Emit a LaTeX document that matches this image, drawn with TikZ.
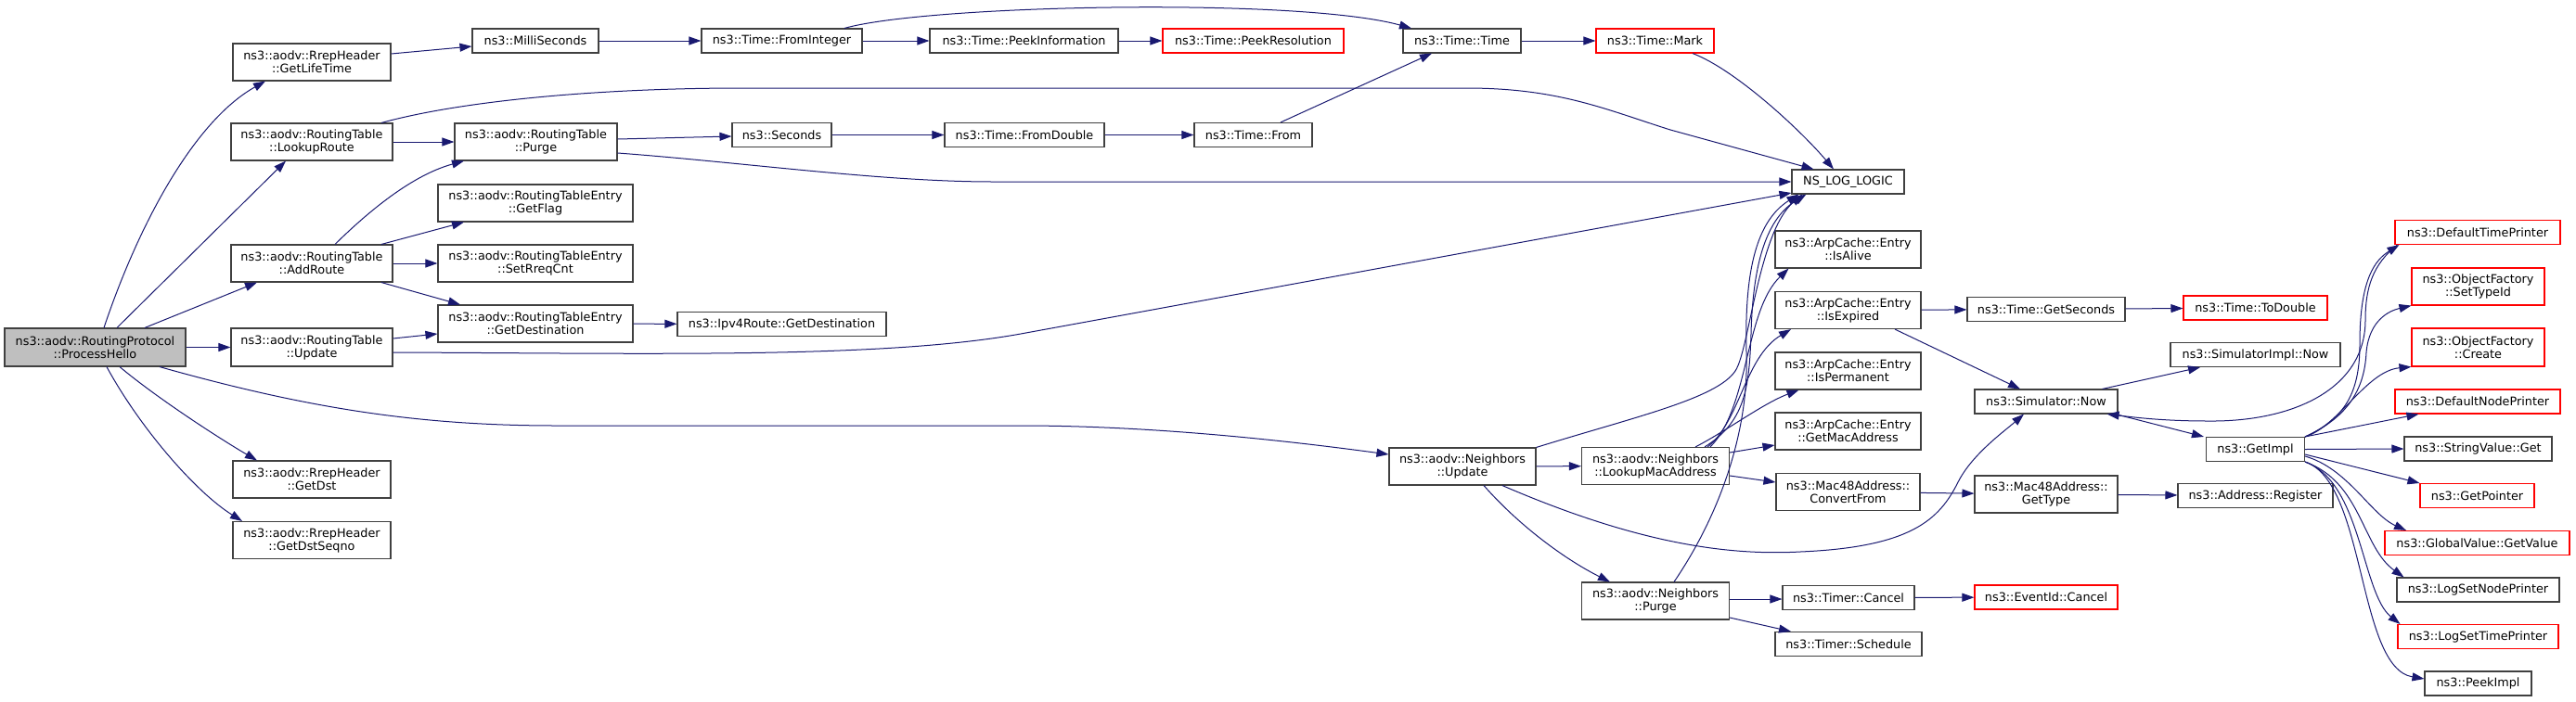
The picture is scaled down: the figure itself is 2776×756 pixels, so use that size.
\documentclass[tikz,border=0pt]{standalone}
\usepackage{fontspec}
\setmainfont{DejaVu Sans}
\usetikzlibrary{arrows.meta}
\definecolor{edgeblue}{HTML}{191970}
\definecolor{boxgray}{HTML}{404040}
\definecolor{rootgray}{HTML}{BFBFBF}
\definecolor{boxred}{HTML}{FF0000}
\tikzset{
  fn/.style={draw=boxgray, line width=1.1pt, fill=white, inner sep=0pt, align=center,
    font=\fontsize{12.8}{14}\selectfont},
  one/.style={minimum height=26pt},
  two/.style={minimum height=40pt},
  redfn/.style={fn, draw=boxred},
  e/.style={draw=edgeblue, line width=1pt, -{Triangle[length=13pt,width=9pt]}},
}
\begin{document}
\begin{tikzpicture}[x=1pt,y=-1pt]
\useasboundingbox (0,0) rectangle (2776,756);
% column 1
\node[fn, two, minimum width=195pt, minimum height=41pt, fill=rootgray] (PH) at (102.5,374.5) {ns3::aodv::RoutingProtocol\\::ProcessHello};
% column 2
\node[fn, two, minimum width=170pt] (GLT) at (336,67) {ns3::aodv::RrepHeader\\::GetLifeTime};
\node[fn, two, minimum width=174pt] (LR) at (336,153) {ns3::aodv::RoutingTable\\::LookupRoute};
\node[fn, two, minimum width=174pt] (AR) at (336,284) {ns3::aodv::RoutingTable\\::AddRoute};
\node[fn, two, minimum width=174pt, minimum height=41pt] (RU) at (336,374.5) {ns3::aodv::RoutingTable\\::Update};
\node[fn, two, minimum width=170pt] (GDst) at (336,517) {ns3::aodv::RrepHeader\\::GetDst};
\node[fn, two, minimum width=170pt] (GDS) at (336,582.5) {ns3::aodv::RrepHeader\\::GetDstSeqno};
% column 3
\node[fn, one, minimum width=136pt] (MS) at (577,44) {ns3::MilliSeconds};
\node[fn, two, minimum width=175pt] (RTP) at (577.5,153) {ns3::aodv::RoutingTable\\::Purge};
\node[fn, two, minimum width=210pt] (GF) at (577,219) {ns3::aodv::RoutingTableEntry\\::GetFlag};
\node[fn, two, minimum width=210pt] (SRC) at (577,284) {ns3::aodv::RoutingTableEntry\\::SetRreqCnt};
\node[fn, two, minimum width=210pt] (GD) at (577,349) {ns3::aodv::RoutingTableEntry\\::GetDestination};
% column 4
\node[fn, one, minimum width=173pt] (FI) at (842.5,44) {ns3::Time::FromInteger};
\node[fn, one, minimum width=107pt] (SEC) at (842.5,145.5) {ns3::Seconds};
\node[fn, one, minimum width=225pt] (IGD) at (842.5,349.5) {ns3::Ipv4Route::GetDestination};
% column 5
\node[fn, one, minimum width=203pt] (PI) at (1103.5,44) {ns3::Time::PeekInformation};
\node[fn, one, minimum width=172pt] (FD) at (1104,145.5) {ns3::Time::FromDouble};
% column 6
\node[redfn, one, minimum width=195pt] (PR) at (1350.5,44) {ns3::Time::PeekResolution};
\node[fn, one, minimum width=127pt] (FR) at (1350.5,145.5) {ns3::Time::From};
% column 7
\node[fn, one, minimum width=127pt] (TT) at (1575.5,44) {ns3::Time::Time};
\node[fn, two, minimum width=158pt] (NU) at (1576,503) {ns3::aodv::Neighbors\\::Update};
% column 8
\node[redfn, one, minimum width=127pt] (TM) at (1783.5,44) {ns3::Time::Mark};
\node[fn, two, minimum width=159pt] (LMA) at (1784,502.5) {ns3::aodv::Neighbors\\::LookupMacAddress};
\node[fn, two, minimum width=159pt] (NP) at (1784,648) {ns3::aodv::Neighbors\\::Purge};
% column 9
\node[fn, one, minimum width=121pt] (NLL) at (1991.5,196) {NS\_LOG\_LOGIC};
\node[fn, two, minimum width=157pt] (IA) at (1991.5,269) {ns3::ArpCache::Entry\\::IsAlive};
\node[fn, two, minimum width=157pt] (IE) at (1991.5,334.5) {ns3::ArpCache::Entry\\::IsExpired};
\node[fn, two, minimum width=157pt] (IP) at (1991.5,400) {ns3::ArpCache::Entry\\::IsPermanent};
\node[fn, two, minimum width=157pt] (GMA) at (1991.5,465) {ns3::ArpCache::Entry\\::GetMacAddress};
\node[fn, two, minimum width=155pt] (CF) at (1991.5,530.5) {ns3::Mac48Address::\\ConvertFrom};
\node[fn, one, minimum width=142pt] (TC) at (1992,644.5) {ns3::Timer::Cancel};
\node[fn, one, minimum width=158pt] (TS) at (1992,694.5) {ns3::Timer::Schedule};
% column 10
\node[fn, one, minimum width=170pt] (GS) at (2205,333.5) {ns3::Time::GetSeconds};
\node[fn, one, minimum width=154pt] (SN) at (2205,433) {ns3::Simulator::Now};
\node[fn, two, minimum width=154pt] (GT) at (2205,533) {ns3::Mac48Address::\\GetType};
\node[redfn, one, minimum width=154pt] (EC) at (2205,644) {ns3::EventId::Cancel};
% column 11
\node[redfn, one, minimum width=155pt] (TD) at (2430.5,332) {ns3::Time::ToDouble};
\node[fn, one, minimum width=183pt] (SIN) at (2430.5,382.5) {ns3::SimulatorImpl::Now};
\node[fn, one, minimum width=106pt] (GI) at (2430.5,484.5) {ns3::GetImpl};
\node[fn, one, minimum width=167pt] (AReg) at (2430.5,534.5) {ns3::Address::Register};
% column 12
\node[redfn, one, minimum width=178pt] (DTP) at (2670,250.5) {ns3::DefaultTimePrinter};
\node[redfn, two, minimum width=143pt] (OST) at (2670.5,309) {ns3::ObjectFactory\\::SetTypeId};
\node[redfn, two, minimum width=143pt, minimum height=41pt] (OC) at (2670.5,374.5) {ns3::ObjectFactory\\::Create};
\node[redfn, one, minimum width=178pt] (DNP) at (2670,433) {ns3::DefaultNodePrinter};
\node[fn, one, minimum width=159pt] (SVG) at (2670.5,484) {ns3::StringValue::Get};
\node[redfn, one, minimum width=123pt] (GP) at (2669.5,534.5) {ns3::GetPointer};
\node[redfn, one, minimum width=199pt] (GVG) at (2669.5,585.5) {ns3::GlobalValue::GetValue};
\node[fn, one, minimum width=175pt] (LSNP) at (2670.5,636) {ns3::LogSetNodePrinter};
\node[redfn, one, minimum width=173pt] (LSTP) at (2670.5,686.5) {ns3::LogSetTimePrinter};
\node[fn, one, minimum width=115pt] (PKI) at (2670.5,737) {ns3::PeekImpl};

% edges from ProcessHello
\draw[e] ([xshift=9.5pt]PH.north) .. controls (150,240) and (210,130) .. ([xshift=-50pt]GLT.south);
\draw[e] ([xshift=23.5pt]PH.north) -- ([xshift=-28pt]LR.south);
\draw[e] ([xshift=53.5pt]PH.north) -- ([xshift=-59pt]AR.south);
\draw[e] (PH.east) -- (RU.west);
\draw[e] ([xshift=69.5pt]PH.south) .. controls (330,440) and (450,459) .. (600,459) -- (1100,459) .. controls (1250,459) and (1400,477) .. ([yshift=13pt]NU.west);
\draw[e] ([xshift=26.5pt]PH.south) .. controls (170,430) and (240,475) .. ([xshift=-59pt]GDst.north);
\draw[e] ([xshift=12.5pt]PH.south) .. controls (150,460) and (210,530) .. ([xshift=-75pt]GDS.north);
% top chain
\draw[e] ([yshift=9pt]GLT.east) -- ([yshift=-6pt]MS.west);
\draw[e] (MS) -- (FI);
\draw[e] (FI) -- (PI);
\draw[e] ([xshift=67.5pt]FI.north) .. controls (1000,5) and (1400,-3) .. ([xshift=-54.5pt]TT.north);
\draw[e] (PI) -- (PR);
\draw[e] (TT) -- (TM);
\draw[e] ([xshift=40.5pt]TM.south) .. controls (1870,75) and (1940,140) .. ([xshift=-15.5pt]NLL.north);
% LookupRoute
\draw[e] (LR) -- (RTP);
\draw[e] ([xshift=75pt]LR.north) .. controls (500,108) and (650,95) .. (800,95) -- (1580,95) .. controls (1680,95) and (1730,118) .. (1800,140) -- ([xshift=-37pt]NLL.north);
% RoutingTable Purge
\draw[e] ([yshift=3pt]RTP.east) -- ([yshift=-1.5pt]SEC.west);
\draw[e] ([yshift=-12pt]RTP.east) .. controls (800,175) and (950,196) .. (1070,196) -- (NLL.west);
\draw[e] (SEC) -- (FD);
\draw[e] (FD) -- (FR);
\draw[e] ([xshift=29.5pt]FR.north) -- ([xshift=-32.5pt]TT.south);
% AddRoute
\draw[e] ([xshift=25pt]AR.north) .. controls (390,235) and (440,190) .. ([xshift=-77.5pt]RTP.south);
\draw[e] ([xshift=75pt]AR.north) -- ([xshift=-77pt]GF.south);
\draw[e] (AR) -- (SRC);
\draw[e] ([xshift=75pt]AR.south) -- ([xshift=-81pt]GD.north);
% RoutingTable Update
\draw[e] ([yshift=9.5pt]RU.east) -- ([yshift=-11pt]GD.west);
\draw[e] ([yshift=-5.5pt]RU.east) .. controls (700,381) and (950,387) .. (1100,360) -- ([yshift=-12pt]NLL.west);
\draw[e] (GD) -- (IGD);
% Neighbors
\draw[e] (NU) -- (LMA);
\draw[e] (NU.north east) .. controls (1760,450) and (1850,430) .. (1870,400) .. controls (1885,378) and (1895,250) .. ([xshift=12pt]NLL.south west);
\draw[e] ([xshift=53pt]LMA.north) .. controls (1880,455) and (1885,420) .. (1887,360) .. controls (1889,280) and (1905,235) .. ([xshift=16pt]NLL.south west);
\draw[e] ([xshift=20pt]NP.north) .. controls (1850,560) and (1885,470) .. (1882,380) .. controls (1880,300) and (1890,240) .. ([xshift=8pt]NLL.south west);
\draw[e] ([xshift=59pt]LMA.north) .. controls (1885,440) and (1880,335) .. ([xshift=-64pt]IA.south);
\draw[e] ([xshift=56pt]LMA.north) .. controls (1875,455) and (1880,385) .. ([xshift=-61.5pt]IE.south);
\draw[e] ([xshift=43pt]LMA.north) .. controls (1860,465) and (1900,435) .. ([xshift=-53pt]IP.south);
\draw[e] ([yshift=14.5pt]LMA.east) -- ([yshift=-15pt]GMA.west);
\draw[e] ([yshift=-10.5pt]LMA.east) -- ([yshift=10.5pt]CF.west);
\draw[e] ([xshift=23pt]NU.south) .. controls (1640,570) and (1690,605) .. ([xshift=-49pt]NP.north);
\draw[e] ([xshift=43pt]NU.south) .. controls (1750,580) and (1850,600) .. (1940,595) .. controls (2060,590) and (2090,560) .. (2110,520) .. controls (2125,490) and (2160,465) .. ([xshift=-24pt]SN.south);
\draw[e] ([yshift=2pt]NP.east) -- ([yshift=-1.5pt]TC.west);
\draw[e] ([yshift=-18pt]NP.east) -- ([xshift=-62pt]TS.north);
% ArpCache / Mac48 / Timer
\draw[e] (IE) -- (GS);
\draw[e] ([xshift=50.5pt]IE.south) -- ([xshift=-28pt]SN.north);
\draw[e] (GS) -- (TD);
\draw[e] (CF) -- (GT);
\draw[e] (GT) -- (AReg);
\draw[e] (TC) -- (EC);
% Simulator::Now and GetImpl
\draw[e] ([xshift=-17pt]SN.north east) -- ([xshift=-59.5pt]SIN.south);
\draw[e] ([xshift=-3pt]SN.south east) -- ([xshift=-2pt]GI.north west);
\draw[e] ([xshift=3pt]DTP.south west) .. controls (2557,285) and (2549,310) .. (2549,345) .. controls (2549,420) and (2470,455) .. (2380,454) .. controls (2330,454) and (2300,450) .. ([xshift=-12pt]SN.south east);
\draw[e] (GI.north east) .. controls (2530,450) and (2543,420) .. (2543,370) .. controls (2543,300) and (2560,280) .. ([xshift=5pt]DTP.south west);
\draw[e] (GI.north east) .. controls (2530,450) and (2548,420) .. (2550,380) .. controls (2553,345) and (2575,335) .. (OST.south west);
\draw[e] (GI.north east) .. controls (2520,460) and (2550,400) .. (OC.south west);
\draw[e] (GI.north east) -- ([xshift=26pt]DNP.south west);
\draw[e] (GI.east) -- (SVG.west);
\draw[e] ([yshift=-5.5pt]GI.east) -- (GP.north west);
\draw[e] ([yshift=-7.5pt]GI.east) .. controls (2530,505) and (2555,555) .. ([xshift=-76.5pt]GVG.north);
\draw[e] (GI.south east) .. controls (2545,520) and (2545,590) .. ([xshift=-80pt]LSNP.north);
\draw[e] (GI.south east) .. controls (2545,520) and (2545,640) .. ([xshift=-84pt]LSTP.north);
\draw[e] (GI.south east) .. controls (2550,520) and (2540,720) .. ([yshift=5pt]PKI.west);
\end{tikzpicture}
\end{document}
